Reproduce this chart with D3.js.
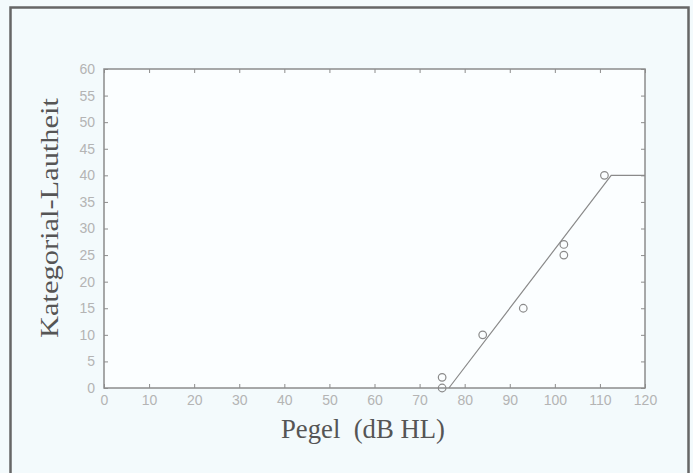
<!DOCTYPE html>
<html>
<head>
<meta charset="utf-8">
<script src="https://cdn.jsdelivr.net/npm/d3@7"></script>
<style>
  html, body { margin: 0; padding: 0; background: #f3fafc; }
  .tick text { font-family: "Liberation Sans", Arial, sans-serif; }
</style>
</head>
<body>
<div id="chart"></div>
<script>
// measured points (level in dB HL, categorical loudness)
const pegel = [75, 75, 84, 93, 102, 102, 111];
const lautheit = [0, 2, 10, 15, 27, 25, 40];

// fitted loudness function (broken line)
const fitX = [76.5, 112.5, 120];
const fitY = [0, 40, 40];

const xTicks = [0, 10, 20, 30, 40, 50, 60, 70, 80, 90, 100, 110, 120];
const yTicks = [0, 5, 10, 15, 20, 25, 30, 35, 40, 45, 50, 55, 60];

const svgWidth = 693;
const svgHeight = 473;

// plot box in pixels
const plot = { left: 104, right: 645, top: 69, bottom: 388 };

const x = d3.scaleLinear().domain([0, 120]).range([plot.left, plot.right]);
const y = d3.scaleLinear().domain([0, 60]).range([plot.bottom, plot.top]);

const svg = d3.select('#chart').append('svg')
  .attr('width', svgWidth)
  .attr('height', svgHeight);

svg.append('rect')
  .attr('width', svgWidth).attr('height', svgHeight)
  .attr('fill', '#f3fafc');

// outer frame
svg.append('rect')
  .attr('x', 10.5).attr('y', 7.5)
  .attr('width', 678).attr('height', 480)
  .attr('fill', 'none')
  .attr('stroke', '#666')
  .attr('stroke-width', 2.5);

// white plot area
svg.append('rect')
  .attr('x', plot.left).attr('y', plot.top)
  .attr('width', plot.right - plot.left).attr('height', plot.bottom - plot.top)
  .attr('fill', '#fbfeff');

const axisColor = '#8c8c8c';
const labelColor = '#b4b4b4';

function styleAxis(g, showLabels) {
  g.select('.domain').remove();
  g.selectAll('.tick line').attr('stroke', axisColor);
  g.selectAll('.tick text')
    .attr('fill', labelColor)
    .style('font-size', '14px')
    .style('display', showLabels ? null : 'none');
}

// bottom axis
svg.append('g')
  .attr('transform', `translate(0,${plot.bottom})`)
  .call(d3.axisBottom(x).tickValues(xTicks).tickSize(-4).tickPadding(7))
  .call(g => styleAxis(g, true));

// top axis (ticks only)
svg.append('g')
  .attr('transform', `translate(0,${plot.top})`)
  .call(d3.axisTop(x).tickValues(xTicks).tickSize(-4))
  .call(g => styleAxis(g, false));

// left axis
svg.append('g')
  .attr('transform', `translate(${plot.left},0)`)
  .call(d3.axisLeft(y).tickValues(yTicks).tickSize(-4).tickPadding(9))
  .call(g => styleAxis(g, true));

// right axis (ticks only)
svg.append('g')
  .attr('transform', `translate(${plot.right},0)`)
  .call(d3.axisRight(y).tickValues(yTicks).tickSize(-4))
  .call(g => styleAxis(g, false));

// box around the plot
svg.append('rect')
  .attr('x', plot.left).attr('y', plot.top)
  .attr('width', plot.right - plot.left).attr('height', plot.bottom - plot.top)
  .attr('fill', 'none')
  .attr('stroke', axisColor)
  .attr('stroke-width', 1.5);

// fitted line
const line = d3.line().x(d => x(d[0])).y(d => y(d[1]));
svg.append('path')
  .datum(d3.zip(fitX, fitY))
  .attr('d', line)
  .attr('fill', 'none')
  .attr('stroke', '#8a8a8a')
  .attr('stroke-width', 1.2);

// data points
svg.append('g').selectAll('circle')
  .data(d3.zip(pegel, lautheit))
  .join('circle')
  .attr('cx', d => x(d[0]))
  .attr('cy', d => y(d[1]))
  .attr('r', 3.8)
  .attr('fill', 'none')
  .attr('stroke', '#8a8a8a')
  .attr('stroke-width', 1.2);

// axis titles
svg.append('text')
  .attr('x', 363)
  .attr('y', 438)
  .attr('text-anchor', 'middle')
  .attr('fill', '#555')
  .attr('textLength', 164)
  .attr('lengthAdjust', 'spacingAndGlyphs')
  .style('font-family', '"Liberation Serif", "DejaVu Serif", serif')
  .style('font-size', '28px')
  .style('white-space', 'pre')
  .text('Pegel  (dB HL)');

svg.append('text')
  .attr('transform', 'translate(58,218) rotate(-90)')
  .attr('text-anchor', 'middle')
  .attr('fill', '#555')
  .attr('textLength', 240)
  .attr('lengthAdjust', 'spacingAndGlyphs')
  .style('font-family', '"Liberation Serif", "DejaVu Serif", serif')
  .style('font-size', '26px')
  .text('Kategorial-Lautheit');
</script>
</body>
</html>
